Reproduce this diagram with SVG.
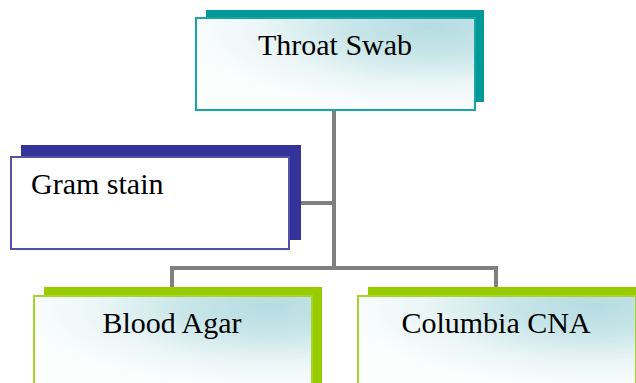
<svg xmlns="http://www.w3.org/2000/svg" width="636" height="383" viewBox="0 0 636 383">
<defs>
<radialGradient id="g" cx="0.85" cy="0.1" r="0.9">
<stop offset="0" stop-color="#b5dce1"/>
<stop offset="0.35" stop-color="#c9e6e9"/>
<stop offset="0.7" stop-color="#ecf6f7"/>
<stop offset="1" stop-color="#fbfdfd"/>
</radialGradient>
<style>
.t{font-family:"Liberation Serif","Times New Roman",serif;font-size:30px;fill:#000}
.c{fill:none;stroke:#808080;stroke-width:4}
</style>
</defs>
<g id="connectors">
<path class="c" d="M334 110 V268 M301 203 H334 M172 287 V268 H496 V287"/>
</g>
<g id="throat">
<rect x="206" y="10" width="278" height="92" fill="#009999"/>
<rect x="196" y="18" width="279" height="92" fill="url(#g)" stroke="#1aa5a5" stroke-width="2"/>
<text class="t" x="335" y="55" text-anchor="middle">Throat Swab</text>
</g>
<g id="gram">
<rect x="21" y="145" width="280" height="95" fill="#333399"/>
<rect x="11" y="157" width="278" height="92" fill="#ffffff" stroke="#5252ad" stroke-width="2"/>
<text class="t" x="31" y="194">Gram stain</text>
</g>
<g id="blood">
<rect x="44" y="287" width="278" height="96" fill="#99cc00"/>
<rect x="34" y="296" width="278" height="92" fill="url(#g)" stroke="#a8d32a" stroke-width="2"/>
<text class="t" x="172" y="333" text-anchor="middle">Blood Agar</text>
</g>
<g id="columbia">
<rect x="368" y="287" width="278" height="96" fill="#99cc00"/>
<rect x="358" y="296" width="278" height="92" fill="url(#g)" stroke="#a8d32a" stroke-width="2"/>
<text class="t" x="496" y="333" text-anchor="middle">Columbia CNA</text>
</g>
</svg>
